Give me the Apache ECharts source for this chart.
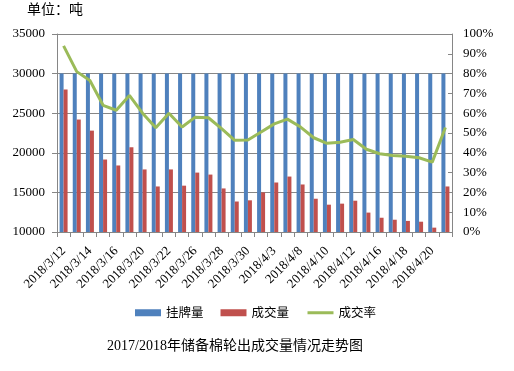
<!DOCTYPE html>
<html>
<head>
<meta charset="utf-8">
<style>html,body{margin:0;padding:0;background:#fff;}#c{width:514px;height:371px;}</style>
<script src="https://cdn.jsdelivr.net/npm/echarts@6/dist/echarts.min.js"></script>
</head>
<body>
<div id="c"></div>
<script>
var categories = ['2018/3/12','2018/3/13','2018/3/14','2018/3/15','2018/3/16','2018/3/19','2018/3/20','2018/3/21','2018/3/22','2018/3/23','2018/3/26','2018/3/27','2018/3/28','2018/3/29','2018/3/30','2018/4/2','2018/4/3','2018/4/4','2018/4/8','2018/4/9','2018/4/10','2018/4/11','2018/4/12','2018/4/13','2018/4/16','2018/4/17','2018/4/18','2018/4/19','2018/4/20','2018/4/23'];
var listed = [30000,30000,30000,30000,30000,30000,30000,30000,30000,30000,30000,30000,30000,30000,30000,30000,30000,30000,30000,30000,30000,30000,30000,30000,30000,30000,30000,30000,30000,30000];
var traded = [28000,24200,22800,19150,18400,20700,17900,15750,17900,15850,17500,17250,15500,13850,14000,15000,16250,17000,16000,14200,13450,13580,13950,12450,11800,11550,11400,11300,10550,15750];
var rate = [94,81,76.5,64,61.5,69,60,52.6,60,53,58,57.7,52.2,46.3,46.5,50.5,54.6,57,53,47.6,44.8,45.3,46.7,41.8,39.5,38.6,38.3,37.5,35.3,52.8];
var leftTicks = {min:10000, max:35000, interval:5000};
var rightTicks = {min:0, max:100, interval:10};

var chart = echarts.init(document.getElementById('c'), null, {renderer:'canvas'});
var axisColor = '#868686';
var serif = '"Liberation Serif","Times New Roman",serif';
var cjk = '"Noto Sans CJK SC","Noto Sans",sans-serif';
chart.setOption({
  animation:false,
  backgroundColor:'#fff',
  graphic:[
    {type:'text', left:27, top:2, style:{text:'单位：吨', font:'14px '+cjk, fill:'#000'}},
    {type:'text', left:107, top:339, style:{text:'2017/2018年储备棉轮出成交量情况走势图', font:'14px '+serif+','+cjk, fill:'#000'}}
  ],
  legend:{
    bottom:47, left:130, itemWidth:26, itemHeight:7, itemGap:17,
    textStyle:{fontFamily:cjk, fontSize:12.5, color:'#000'},
    data:[{name:'挂牌量', icon:'rect'},{name:'成交量', icon:'rect'},
          {name:'成交率', itemStyle:{opacity:0}, lineStyle:{width:3, color:'#9BBB59'}}]
  },
  grid:{left:57, right:62, top:34, bottom:139},
  xAxis:{
    type:'category', data:categories, boundaryGap:true,
    axisLine:{lineStyle:{color:axisColor}},
    axisTick:{show:true, interval:0, length:5, lineStyle:{color:axisColor}},
    axisLabel:{interval:1, rotate:45, fontFamily:serif, fontSize:13, color:'#000', margin:17}
  },
  yAxis:[
    {type:'value', min:leftTicks.min, max:leftTicks.max, interval:leftTicks.interval,
     axisLine:{show:true, lineStyle:{color:axisColor}},
     axisTick:{show:true, length:5, lineStyle:{color:axisColor}},
     splitLine:{show:true, lineStyle:{color:axisColor, width:1}},
     axisLabel:{fontFamily:serif, fontSize:13, color:'#000', margin:12, formatter:function(v){return String(v);}}},
    {type:'value', min:rightTicks.min, max:rightTicks.max, interval:rightTicks.interval,
     axisLine:{show:true, lineStyle:{color:axisColor}},
     axisTick:{show:true, inside:true, length:4, lineStyle:{color:axisColor}},
     splitLine:{show:false},
     axisLabel:{fontFamily:serif, fontSize:13, color:'#000', margin:11, formatter:'{value}%'}}
  ],
  series:[
    {name:'挂牌量', type:'bar', data:listed, barWidth:4, barGap:'0%', itemStyle:{color:'#4F81BD'}},
    {name:'成交量', type:'bar', data:traded, barWidth:4, barGap:'0%', itemStyle:{color:'#C0504D'}},
    {name:'成交率', type:'line', yAxisIndex:1, data:rate, symbol:'none', z:5,
     lineStyle:{color:'#9BBB59', width:3}, itemStyle:{color:'#9BBB59'}}
  ]
});
</script>
</body>
</html>
